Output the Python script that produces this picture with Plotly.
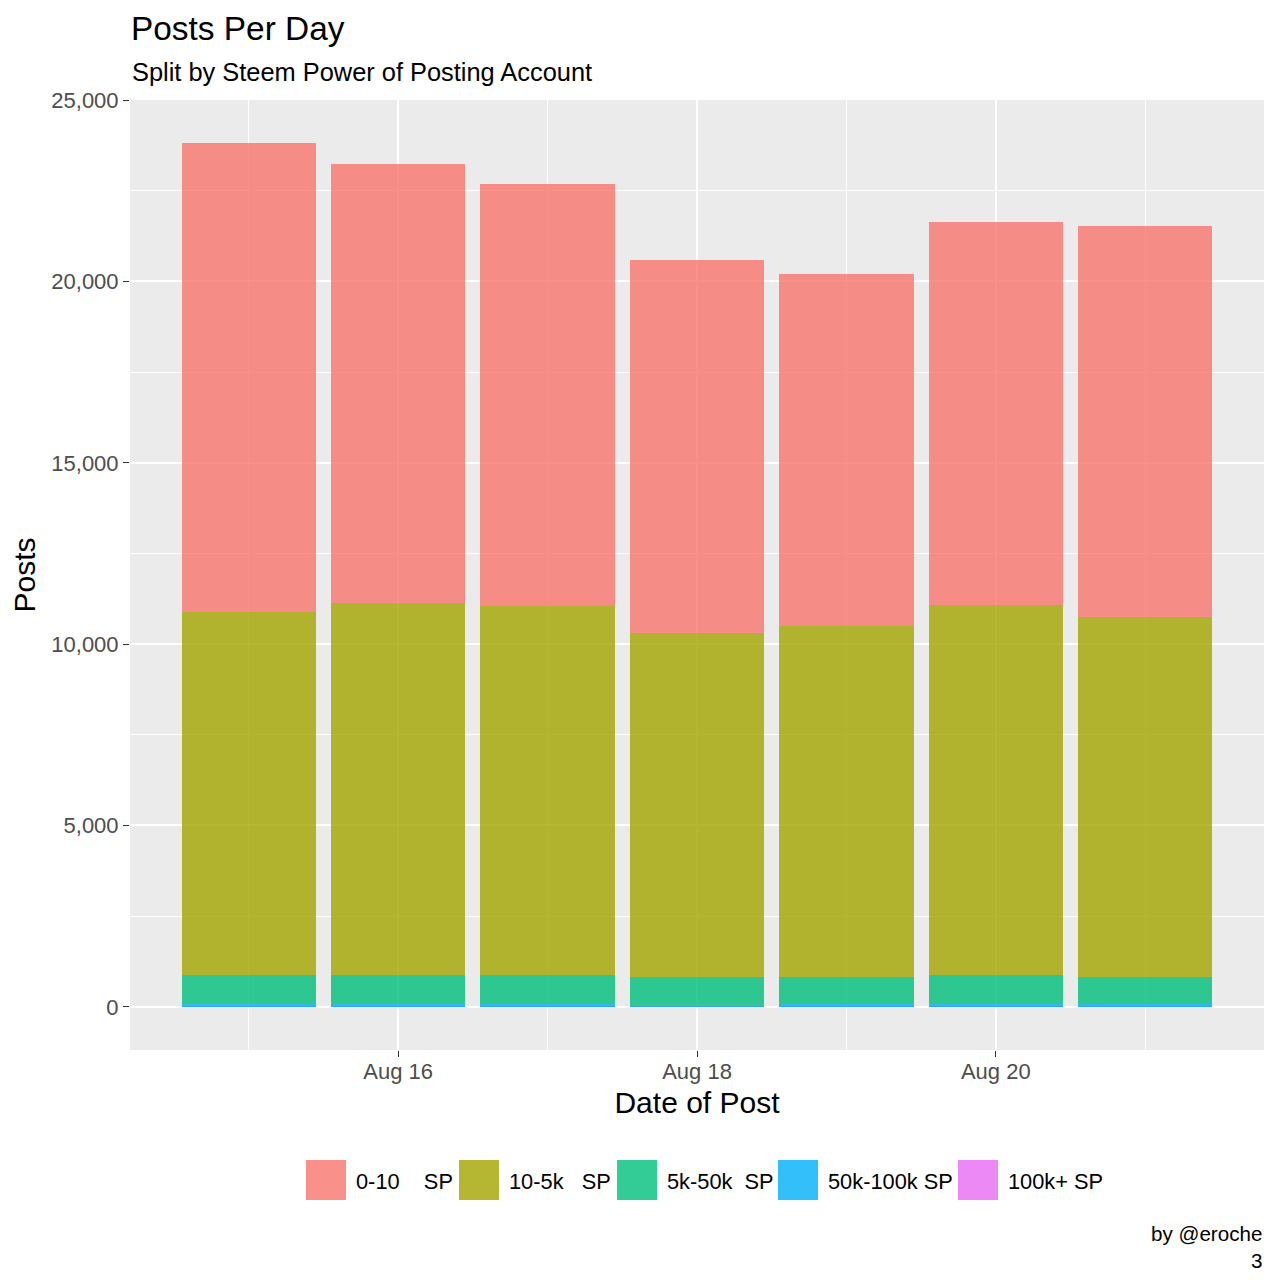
import pandas as pd
import plotly.graph_objects as go

# ---- data ----
dates = ["2017-08-15", "2017-08-16", "2017-08-17", "2017-08-18",
         "2017-08-19", "2017-08-20", "2017-08-21"]
sp_0_10 = [12913, 12086, 11617, 10265, 9686, 10541, 10761]
sp_10_5k = [10025, 10273, 10195, 9511, 9698, 10202, 9926]
sp_5k_50k = [800, 805, 797, 746, 749, 816, 767]
sp_50k_100k = [55, 52, 54, 48, 50, 55, 52]
sp_100k_plus = [20, 18, 19, 15, 16, 20, 17]

groups = ["0-10\u00a0\u00a0\u00a0\u00a0SP", "10-5k\u00a0\u00a0\u00a0SP", "5k-50k\u00a0\u00a0SP",
          "50k-100k SP", "100k+ SP"]
colors = ["#F8766D", "#A3A500", "#00BF7D", "#00B0F6", "#E76BF3"]
series = [sp_0_10, sp_10_5k, sp_5k_50k, sp_50k_100k, sp_100k_plus]

x_ticks = ["2017-08-16", "2017-08-18", "2017-08-20"]
y_ticks = [0, 5000, 10000, 15000, 20000, 25000]

FONT = "Liberation Sans, Arial, Helvetica, sans-serif"
DAY_MS = 86400000
dts = pd.to_datetime(dates)

fig = go.Figure()
# ggplot stacks first level on top -> add in reverse order
for name, vals, col in list(zip(groups, series, colors))[::-1]:
    fig.add_trace(go.Bar(
        x=dts, y=vals, name=name, width=0.9 * DAY_MS,
        marker=dict(color=col, line=dict(width=0)), opacity=0.8,
        showlegend=False,
    ))

totals = [sum(v) for v in zip(*series)]
ymax = max(totals)
yexp = 0.05 * ymax
x_lo = dts.min() - pd.Timedelta(days=0.45)
x_hi = dts.max() + pd.Timedelta(days=0.45)
xexp = (x_hi - x_lo) * 0.05

fig.update_layout(
    width=1279, height=1280,
    margin=dict(l=122, r=23, t=92, b=238),
    paper_bgcolor="white", plot_bgcolor="#EBEBEB",
    barmode="stack", bargap=0,
    font=dict(family=FONT, color="black"),
    title=dict(text="Posts Per Day", x=123 / 1279, xanchor="left", xref="container",
               y=1 - 20 / 1280, yanchor="middle", yref="container",
               font=dict(size=33.4, color="black")),
    xaxis=dict(
        type="date", range=[x_lo - xexp, x_hi + xexp],
        tickmode="array", tickvals=pd.to_datetime(x_ticks), ticktext=["Aug 16", "Aug 18", "Aug 20"],
        ticks="outside", ticklen=6, tickwidth=1, tickcolor="#333333",
        tickfont=dict(size=22, color="#4D4D4D"), ticklabelstandoff=-4,
        showgrid=True, gridcolor="white", gridwidth=1.6,
        minor=dict(tickmode="array",
                   tickvals=pd.to_datetime(["2017-08-15", "2017-08-17", "2017-08-19", "2017-08-21"]),
                   showgrid=True, gridcolor="white", gridwidth=0.8, ticks=""),
        zeroline=False, showline=False,
        title=dict(text="Date of Post", font=dict(size=30, color="black"), standoff=8),
        automargin=False,
    ),
    yaxis=dict(
        range=[-yexp, ymax + yexp],
        tickmode="array", tickvals=y_ticks, ticktext=[f"{v:,}" for v in y_ticks],
        ticks="outside", ticklen=6, tickwidth=1, tickcolor="#333333",
        tickfont=dict(size=22, color="#4D4D4D"),
        showgrid=True, gridcolor="white", gridwidth=1.6,
        minor=dict(tickmode="array", tickvals=[2500, 7500, 12500, 17500, 22500],
                   showgrid=True, gridcolor="white", gridwidth=0.8, ticks=""),
        zeroline=False, showline=False,
        title=dict(text="Posts", font=dict(size=30, color="black"), standoff=10),
        automargin=False,
    ),
)

# subtitle
fig.add_annotation(text="Split by Steem Power of Posting Account", xref="paper", yref="paper",
                   x=0, y=(1050 - 72) / 950, xanchor="left", yanchor="middle", showarrow=False,
                   font=dict(size=25.4, color="black"))

# caption
fig.add_annotation(text="by @eroche<br>3", xref="paper", yref="paper", align="right",
                   x=1, y=(1050 - 1247) / 950, xanchor="right", yanchor="middle", showarrow=False,
                   font=dict(size=20.6, color="black"))

# custom legend (ggplot-style large keys)
key_px = [306, 459, 617, 778, 958]
for name, col, kx in zip(groups, colors, key_px):
    x0 = (kx - 130) / 1134
    x1 = (kx + 40 - 130) / 1134
    fig.add_shape(type="rect", xref="paper", yref="paper", x0=x0, x1=x1,
                  y0=(1050 - 1200) / 950, y1=(1050 - 1160) / 950,
                  fillcolor=col, opacity=0.8, line=dict(width=0), layer="above")
    fig.add_annotation(text=name, xref="paper", yref="paper", x=(kx + 48 - 130) / 1134,
                       y=(1050 - 1181) / 950, xanchor="left", yanchor="middle", showarrow=False,
                       font=dict(size=21.8, color="black"))

fig.write_html("out.html")
